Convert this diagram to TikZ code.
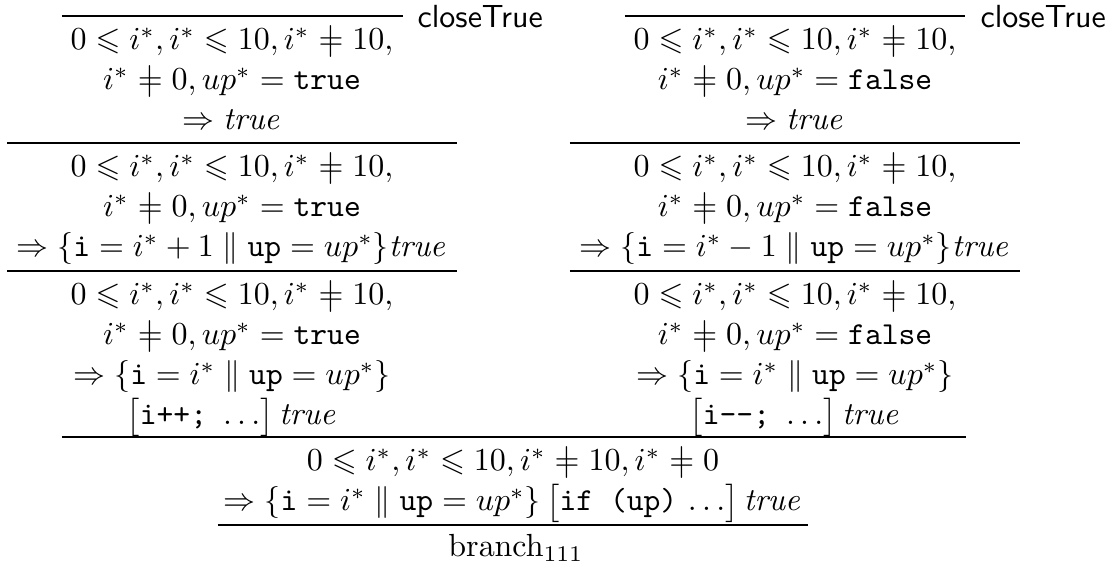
\documentclass[tikz,border=0pt]{standalone}
\usepackage{amssymb}
\newcommand{\nequ}{\mathrel{\ooalign{$=$\cr\hfil$|$\hfil\cr}}}
\newcommand{\ttv}[1]{\mathtt{#1}}
\newcommand{\ttx}[1]{\mbox{\ttfamily #1}}
\tikzset{
  seqrow/.style={anchor=base,inner sep=0pt},
  rulelbl/.style={anchor=base west,inner sep=0pt,font=\sffamily},
  bar/.style={line width=0.42pt}
}
\begin{document}
\begin{tikzpicture}[x=0.3125pt,y=-0.3125pt]
\useasboundingbox (0,0) rectangle (1107,565);
% ---------- left branch ----------
\draw[bar] (62,16) -- (403,16);
\node[rulelbl] (lc) at (417,28) {closeTrue};
\node[seqrow] (l11) at (232,50) {$0\leqslant i^*, i^*\leqslant 10, i^*\nequ 10,$};
\node[seqrow] (l12) at (232,90) {$i^*\nequ 0, up^*=\ttv{true}$};
\node[seqrow] (l13) at (232,130) {$\Rightarrow \mathit{true}$};
\draw[bar] (7,143) -- (457,143);
\node[seqrow] (l21) at (232,177) {$0\leqslant i^*, i^*\leqslant 10, i^*\nequ 10,$};
\node[seqrow] (l22) at (232,217) {$i^*\nequ 0, up^*=\ttv{true}$};
\node[seqrow] (l23) at (232,257) {$\Rightarrow \{\ttv{i}=i^*+1\parallel \ttv{up}=up^*\}\mathit{true}$};
\draw[bar] (7,271) -- (457,271);
\node[seqrow] (l31) at (232,305) {$0\leqslant i^*, i^*\leqslant 10, i^*\nequ 10,$};
\node[seqrow] (l32) at (232,345) {$i^*\nequ 0, up^*=\ttv{true}$};
\node[seqrow] (l33) at (232,385) {$\Rightarrow \{\ttv{i}=i^*\parallel \ttv{up}=up^*\}$};
\node[seqrow] (l34) at (232,425) {$\bigl[\ttx{i++;}\ \ldots\bigr]\,\mathit{true}$};
% ---------- right branch ----------
\draw[bar] (625,16) -- (965,16);
\node[rulelbl] (rc) at (980,28) {closeTrue};
\node[seqrow] (r11) at (795,50) {$0\leqslant i^*, i^*\leqslant 10, i^*\nequ 10,$};
\node[seqrow] (r12) at (795,90) {$i^*\nequ 0, up^*=\ttv{false}$};
\node[seqrow] (r13) at (795,130) {$\Rightarrow \mathit{true}$};
\draw[bar] (570,143) -- (1020,143);
\node[seqrow] (r21) at (795,177) {$0\leqslant i^*, i^*\leqslant 10, i^*\nequ 10,$};
\node[seqrow] (r22) at (795,217) {$i^*\nequ 0, up^*=\ttv{false}$};
\node[seqrow] (r23) at (795,257) {$\Rightarrow \{\ttv{i}=i^*-1\parallel \ttv{up}=up^*\}\mathit{true}$};
\draw[bar] (570,271) -- (1020,271);
\node[seqrow] (r31) at (795,305) {$0\leqslant i^*, i^*\leqslant 10, i^*\nequ 10,$};
\node[seqrow] (r32) at (795,345) {$i^*\nequ 0, up^*=\ttv{false}$};
\node[seqrow] (r33) at (795,385) {$\Rightarrow \{\ttv{i}=i^*\parallel \ttv{up}=up^*\}$};
\node[seqrow] (r34) at (795,425) {$\bigl[\ttx{i-{}-;}\ \ldots\bigr]\,\mathit{true}$};
% ---------- conclusion ----------
\draw[bar] (62,437) -- (966,437);
\node[seqrow] (c1) at (513,471) {$0\leqslant i^*, i^*\leqslant 10, i^*\nequ 10, i^*\nequ 0$};
\node[seqrow] (c2) at (513,511) {$\Rightarrow \{\ttv{i}=i^*\parallel \ttv{up}=up^*\}\,\bigl[\ttx{if (up)}\,\ldots\bigr]\,\mathit{true}$};
\draw[bar] (218,525) -- (808,525);
\node[seqrow] (br) at (516,557) {$\mathrm{branch}_{111}$};
\end{tikzpicture}
\end{document}
